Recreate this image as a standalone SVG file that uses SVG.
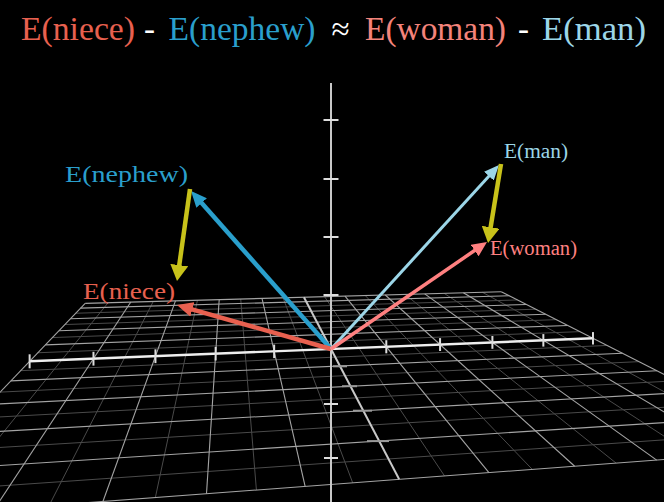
<svg xmlns="http://www.w3.org/2000/svg" width="664" height="502" viewBox="0 0 664 502">
<style>
text{font-family:"Liberation Serif","DejaVu Serif",serif}
.maj{stroke:#a4a4a4;stroke-width:1.1;fill:none}
.min{stroke:#4a4a4a;stroke-width:1;fill:none}
.ax{stroke:#eeeeee;stroke-width:2.4;fill:none}
.zax{stroke:#c8c8c8;stroke-width:2;fill:none}
.tk{stroke:#dddddd;stroke-width:2;fill:none}
.tkd{stroke:#9a9a9a;stroke-width:2;fill:none}
.vec{fill:none;stroke-linecap:butt}
.t{font-size:33px}
.lbl{font-size:23px}
.lbs{font-size:20px}
</style>
<defs>
<marker id="hBlue" markerUnits="userSpaceOnUse" viewBox="0 0 16 14" markerWidth="16" markerHeight="14" refX="4" refY="7" orient="auto"><path d="M0,0 L16,7 L0,14 Z" fill="#2A9FCC"/></marker>
<marker id="hRed" markerUnits="userSpaceOnUse" viewBox="0 0 16 15" markerWidth="16" markerHeight="15" refX="4" refY="7.5" orient="auto"><path d="M0,0 L16,7.5 L0,15 Z" fill="#E8604F"/></marker>
<marker id="hLBlue" markerUnits="userSpaceOnUse" viewBox="0 0 15 13" markerWidth="15" markerHeight="13" refX="3" refY="6.5" orient="auto"><path d="M0,0 L15,6.5 L0,13 Z" fill="#9CD6E8"/></marker>
<marker id="hPink" markerUnits="userSpaceOnUse" viewBox="0 0 15 14" markerWidth="15" markerHeight="14" refX="3" refY="7" orient="auto"><path d="M0,0 L15,7 L0,14 Z" fill="#FF8080"/></marker>
<marker id="hYel" markerUnits="userSpaceOnUse" viewBox="0 0 16 18" markerWidth="16" markerHeight="18" refX="4" refY="9" orient="auto"><path d="M0,0 L16,9 L0,18 Z" fill="#C8C21A"/></marker>
</defs>
<rect x="0" y="0" width="664" height="502" fill="#000"/>

<g id="grid">
<g class="min">
<line x1="108.13" y1="302.69" x2="-62.57" y2="513.82"/>
<line x1="153.26" y1="301.44" x2="49.15" y2="505.48"/>
<line x1="197.45" y1="300.21" x2="155.35" y2="497.54"/>
<line x1="240.71" y1="299.01" x2="256.41" y2="490.00"/>
<line x1="283.08" y1="297.83" x2="352.70" y2="482.80"/>
<line x1="324.58" y1="296.68" x2="444.56" y2="475.94"/>
<line x1="365.24" y1="295.55" x2="532.28" y2="469.39"/>
<line x1="405.08" y1="294.44" x2="616.13" y2="463.13"/>
<line x1="444.13" y1="293.35" x2="696.37" y2="457.14"/>
<line x1="482.41" y1="292.29" x2="773.21" y2="451.40"/>
<line x1="75.70" y1="313.24" x2="517.43" y2="299.96"/>
<line x1="64.86" y1="324.54" x2="535.61" y2="309.19"/>
<line x1="52.38" y1="337.57" x2="556.24" y2="319.65"/>
<line x1="37.83" y1="352.76" x2="579.85" y2="331.63"/>
<line x1="20.67" y1="370.67" x2="607.12" y2="345.46"/>
<line x1="0.12" y1="392.11" x2="638.98" y2="361.63"/>
<line x1="-24.93" y1="418.26" x2="676.71" y2="380.77"/>
<line x1="-56.15" y1="450.84" x2="722.07" y2="403.79"/>
<line x1="-96.13" y1="492.57" x2="777.66" y2="431.99"/>
</g>
<g class="maj">
<line x1="85.19" y1="303.33" x2="501.27" y2="291.77"/>
<line x1="85.19" y1="303.33" x2="-120.65" y2="518.16"/>
<line x1="130.82" y1="302.06" x2="-5.99" y2="509.60"/>
<line x1="175.47" y1="300.82" x2="102.92" y2="501.46"/>
<line x1="219.19" y1="299.61" x2="206.50" y2="493.73"/>
<line x1="262.00" y1="298.42" x2="305.13" y2="486.36"/>
<line x1="345.01" y1="296.11" x2="488.92" y2="472.63"/>
<line x1="385.26" y1="294.99" x2="574.67" y2="466.22"/>
<line x1="424.70" y1="293.89" x2="656.68" y2="460.10"/>
<line x1="463.37" y1="292.82" x2="735.20" y2="454.24"/>
<line x1="501.27" y1="291.77" x2="810.43" y2="448.62"/>
<line x1="80.60" y1="308.12" x2="509.12" y2="295.75"/>
<line x1="70.47" y1="318.70" x2="526.24" y2="304.43"/>
<line x1="58.85" y1="330.82" x2="545.59" y2="314.25"/>
<line x1="45.39" y1="344.86" x2="567.63" y2="325.43"/>
<line x1="10.88" y1="380.88" x2="622.41" y2="353.22"/>
<line x1="-11.75" y1="404.51" x2="657.01" y2="370.78"/>
<line x1="-39.63" y1="433.60" x2="698.30" y2="391.72"/>
<line x1="-74.83" y1="470.34" x2="748.38" y2="417.14"/>
<line x1="-120.65" y1="518.16" x2="810.43" y2="448.62"/>
</g>
</g>

<g id="axes">
<line class="zax" x1="331" y1="83" x2="331" y2="502"/>
<g class="tk">
<line x1="323.5" y1="120" x2="338.5" y2="120"/>
<line x1="323.5" y1="179" x2="338.5" y2="179"/>
<line x1="323.5" y1="237" x2="338.5" y2="237"/>
<line x1="323.5" y1="295" x2="338.5" y2="295"/>
<line x1="324" y1="404" x2="338" y2="404"/>
<line x1="324" y1="458" x2="338" y2="458"/>
</g>
<line class="zax" x1="303.93" y1="297.25" x2="399.17" y2="479.33"/>
<g class="tkd">
<line x1="333" y1="366.3" x2="347" y2="366.3"/>
<line x1="342" y1="386.2" x2="357" y2="386.2"/>
<line x1="353" y1="410.7" x2="372" y2="410.7"/>
<line x1="367" y1="441.1" x2="389" y2="441.1"/>
</g>
<line class="ax" x1="29.62" y1="361.32" x2="592.97" y2="338.29"/>
<g class="tk">
<line x1="29.62" y1="354.3" x2="29.62" y2="368.3"/>
<line x1="93.47" y1="351.8" x2="93.47" y2="365.6"/>
<line x1="155.45" y1="349.3" x2="155.45" y2="363.1"/>
<line x1="215.65" y1="346.9" x2="215.65" y2="360.5"/>
<line x1="274.15" y1="344.6" x2="274.15" y2="358.1"/>
<line x1="386.3" y1="340.2" x2="386.3" y2="353.3"/>
<line x1="440.07" y1="338.1" x2="440.07" y2="351.0"/>
<line x1="492.4" y1="336.0" x2="492.4" y2="348.8"/>
<line x1="543.35" y1="334.1" x2="543.35" y2="346.6"/>
<line x1="592.97" y1="332.1" x2="592.97" y2="344.5"/>
</g>
</g>

<g id="connectors">
<line class="vec" x1="331" y1="349" x2="199" y2="200" stroke="#2A9FCC" stroke-width="4.5" marker-end="url(#hBlue)"/>
<line class="vec" x1="331" y1="349" x2="188.5" y2="308.3" stroke="#E8604F" stroke-width="4.5" marker-end="url(#hRed)"/>
<line class="vec" x1="331" y1="349" x2="490.9" y2="173.9" stroke="#9CD6E8" stroke-width="3" marker-end="url(#hLBlue)"/>
<line class="vec" x1="331" y1="349" x2="477.1" y2="248.8" stroke="#FF8080" stroke-width="3.5" marker-end="url(#hPink)"/>
<line class="vec" x1="190" y1="189" x2="178.7" y2="269.1" stroke="#C8C21A" stroke-width="4.5" marker-end="url(#hYel)"/>
<line class="vec" x1="501" y1="164" x2="490" y2="231.2" stroke="#C8C21A" stroke-width="4.5" marker-end="url(#hYel)"/>
</g>

<g id="node-nephew"><text class="lbl" x="65" y="182" fill="#2A9FCC" textLength="123" lengthAdjust="spacingAndGlyphs">E(nephew)</text></g>
<g id="node-niece"><text class="lbl" x="83" y="299" fill="#E8604F" textLength="92" lengthAdjust="spacingAndGlyphs">E(niece)</text></g>
<g id="node-man"><text class="lbs" x="504" y="158" fill="#9CD6E8" textLength="64" lengthAdjust="spacingAndGlyphs">E(man)</text></g>
<g id="node-woman"><text class="lbs" x="490" y="255" fill="#FF8080" textLength="87" lengthAdjust="spacingAndGlyphs">E(woman)</text></g>

<g id="title">
<text class="t" x="21" y="40" fill="#E8604F" textLength="114" lengthAdjust="spacingAndGlyphs">E(niece)</text>
<text class="t" x="149.5" y="40" fill="#ffffff" text-anchor="middle">-</text>
<text class="t" x="168.5" y="40" fill="#2A9FCC" textLength="147" lengthAdjust="spacingAndGlyphs">E(nephew)</text>
<text class="t" x="340.5" y="40" fill="#ffffff" text-anchor="middle">≈</text>
<text class="t" x="365" y="40" fill="#F4837A" textLength="141" lengthAdjust="spacingAndGlyphs">E(woman)</text>
<text class="t" x="523.5" y="40" fill="#ffffff" text-anchor="middle">-</text>
<text class="t" x="542" y="40" fill="#9CD6E8" textLength="104" lengthAdjust="spacingAndGlyphs">E(man)</text>
</g>
</svg>
